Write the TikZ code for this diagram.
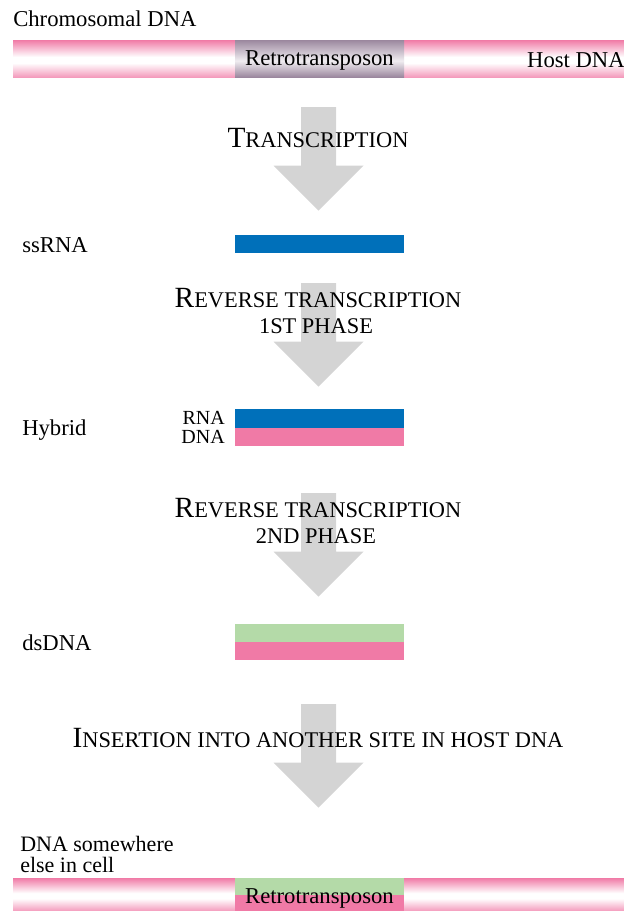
\documentclass[tikz,border=0pt]{standalone}
\usepackage{fontspec}
\setmainfont{Liberation Serif}
\usetikzlibrary{positioning}
\definecolor{rnablue}{RGB}{0,112,186}
\definecolor{dnapink}{RGB}{240,122,166}
\definecolor{dnagreen}{RGB}{180,218,168}
\definecolor{arrowgray}{RGB}{212,212,212}
\definecolor{retrogray}{RGB}{155,135,158}
\colorlet{hostlow}{dnapink!75}
\colorlet{retrolight}{retrogray!15}
\pgfdeclareverticalshading{hostshade}{100bp}{color(0bp)=(hostlow); color(25bp)=(hostlow);
  color(44bp)=(white); color(52bp)=(white); color(75bp)=(dnapink); color(100bp)=(dnapink)}
\pgfdeclareverticalshading{retroshade}{100bp}{color(0bp)=(retrogray); color(25bp)=(retrogray);
  color(47bp)=(retrolight); color(75bp)=(retrogray); color(100bp)=(retrogray)}
\newcommand{\caplabel}[2]{{\fontsize{22}{22}\selectfont #1}{\fontsize{16.8}{17}\selectfont #2}}
\newcommand{\smallcaplabel}[1]{{\fontsize{16.8}{17}\selectfont #1}}

\begin{document}
\begin{tikzpicture}[
  x=0.75pt, y=-0.75pt,
  lbl/.style={font=\fontsize{17}{15}\selectfont, inner sep=0pt, anchor=base},
  side/.style={lbl, anchor=base west},
  strand/.style={font=\fontsize{15}{15}\selectfont, inner sep=0pt, anchor=base east},
  phase/.style={inner sep=0pt, anchor=base},
  bigarrow/.pic={
    \fill[arrowgray] (-17.5,0) -- (17.5,0) -- (17.5,58.5) -- (45,58.5)
      -- (0,103.5) -- (-45,58.5) -- (-17.5,58.5) -- cycle;
  }
]
\useasboundingbox (0,0) rectangle (624,911);

%% ─────────────────────────────────────────────
%% Chromosome with the retrotransposon
%% ─────────────────────────────────────────────
\node[side] (chrom) at (13,26) {Chromosomal DNA};
\shade[shading=hostshade] (13,40) rectangle (624,77);
\shade[shading=retroshade] (235,40) rectangle (404,77);
\node[lbl] (retro) at (319.5,65) {Retrotransposon};
\node[lbl, anchor=base east] (host) at (625,67) {Host DNA};

%% step 1: transcription
\pic at (318.5,107) {bigarrow};
\node[phase] (tr) at (318,147) {\caplabel{T}{RANSCRIPTION}};

\node[side] (ss) at (22,252) {ssRNA};
\fill[rnablue] (235,235) rectangle (404,253);

%% step 2: reverse transcription, first phase
\pic at (318.5,283) {bigarrow};
\node[phase] (rt1) at (318,307) {\caplabel{R}{EVERSE TRANSCRIPTION}};
\node[phase] (ph1) at (316,333) {\smallcaplabel{1ST PHASE}};

\node[side] (hyb) at (22,435) {Hybrid};
\fill[rnablue] (235,409) rectangle (404,427.5);
\fill[dnapink] (235,427.5) rectangle (404,446);
\node[strand] (rna) at (225,424) {RNA};
\node[strand] (dna) at (225,443) {DNA};

%% step 3: reverse transcription, second phase
\pic at (318.5,493) {bigarrow};
\node[phase] (rt2) at (318,517) {\caplabel{R}{EVERSE TRANSCRIPTION}};
\node[phase] (ph2) at (316,543) {\smallcaplabel{2ND PHASE}};

\node[side] (ds) at (22,650) {dsDNA};
\fill[dnagreen] (235,624) rectangle (404,642);
\fill[dnapink] (235,642) rectangle (404,660);

%% step 4: insertion
\pic at (318.5,704) {bigarrow};
\node[phase] (ins) at (318,747) {\caplabel{I}{NSERTION INTO ANOTHER SITE IN HOST DNA}};

%% ─────────────────────────────────────────────
%% New site in the host
%% ─────────────────────────────────────────────
\node[side, align=left, font=\fontsize{16.5}{15.5}\selectfont] (where) at (20,872)
  {DNA somewhere\\else in cell};
\shade[shading=hostshade] (13,878) rectangle (624,911);
\fill[dnagreen] (235,878) rectangle (404,894.5);
\fill[dnapink] (235,894.5) rectangle (404,911);
\node[lbl] (retro2) at (319.5,903) {Retrotransposon};

\end{tikzpicture}
\end{document}
